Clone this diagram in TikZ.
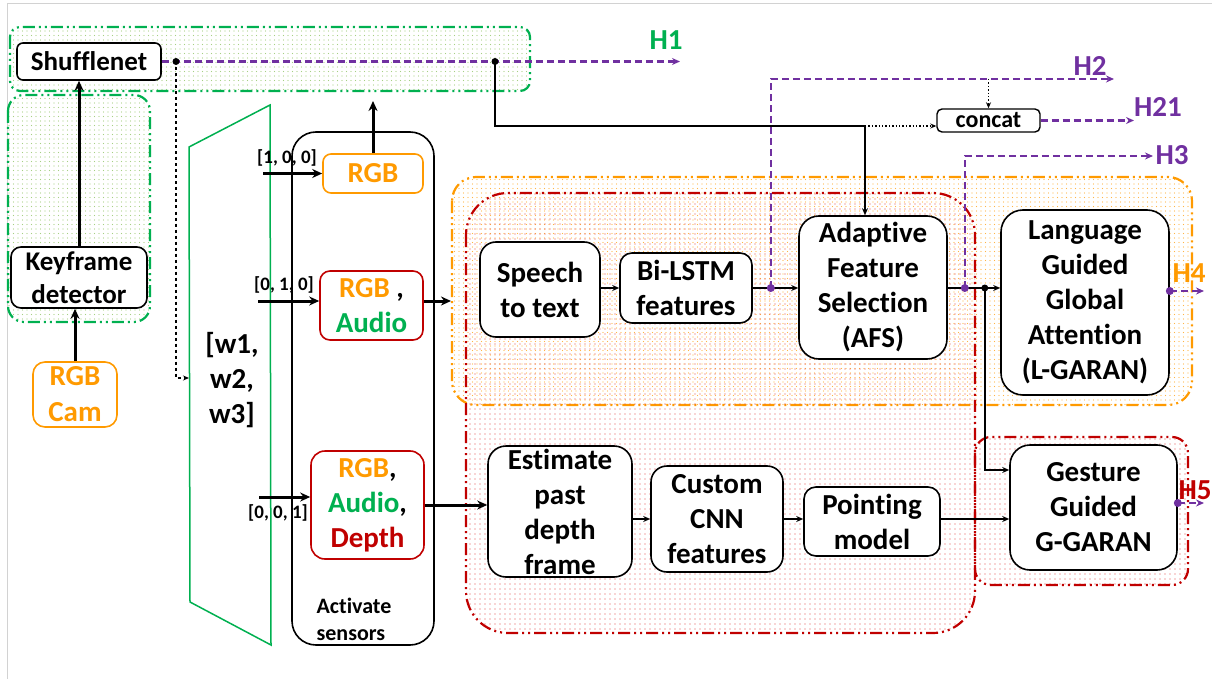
\documentclass[tikz,border=0pt]{standalone}
\usepackage{fontspec}
\setmainfont{Carlito}[Ligatures=NoCommon]
\usetikzlibrary{arrows.meta,patterns.meta,calc}

\definecolor{cgreen}{HTML}{00B050}
\definecolor{corange}{HTML}{FF9A00}
\definecolor{cred}{HTML}{C00000}
\definecolor{cpurple}{HTML}{7030A0}
\definecolor{dotgreen}{HTML}{A6CF82}
\definecolor{dotorange}{HTML}{FFB445}
\definecolor{dotred}{HTML}{E04A4A}
\definecolor{pageline}{HTML}{D2D2D2}

\newcommand{\setfs}[2]{\fontsize{#1}{#2}\selectfont}

\begin{document}
\begin{tikzpicture}[x=1pt,y=-1pt,
  txt/.style={font=\bfseries\setfs{29}{35}, align=center},
  blk/.style={draw=black, line width=1.6pt, rounded corners=#1, fill=white, inner sep=0pt, txt},
  blk/.default=14pt,
  sz/.style 2 args={minimum width=#1pt, minimum height=#2pt},
  grp/.style={line width=2.2pt, dash pattern=on 12pt off 4pt on 2pt off 4pt on 2pt off 4pt},
  thk/.style={line width=3pt, -{Stealth[length=10pt,width=9pt]}},
  thn/.style={line width=1.4pt, -{Stealth[length=7pt,width=6pt]}},
  pdash/.style={cpurple, line width=2.2pt, dash pattern=on 7pt off 4pt, -{Stealth[length=8pt,width=7pt]}},
  slbl/.style={font=\bfseries\setfs{19}{22}, inner sep=0pt},
  hlbl/.style={font=\bfseries\setfs{29}{35}, inner sep=0pt},
]
\useasboundingbox (0,0) rectangle (1212,679);

% page edge
\draw[pageline, line width=1pt] (7,679) -- (7,4) -- (1212,4);

% ---- grouping regions ----
\draw[grp, draw=cgreen, rounded corners=10pt, pattern={Dots[distance=4.5pt,radius=0.6pt]}, pattern color=dotgreen]
  (10,27) rectangle (530,91);
\draw[grp, draw=cgreen, rounded corners=16pt, pattern={Dots[distance=4.5pt,radius=0.6pt]}, pattern color=dotgreen]
  (8,95) rectangle (150,322);
\draw[grp, draw=corange, rounded corners=24pt, pattern={Dots[distance=4.5pt,radius=0.65pt]}, pattern color=dotorange]
  (452,177) rectangle (1192,405);
\draw[grp, draw=cred, rounded corners=42pt, pattern={Dots[distance=5pt,radius=0.7pt]}, pattern color=dotred]
  (466,193) rectangle (975,633);
\draw[grp, draw=cred, rounded corners=16pt, pattern={Dots[distance=5pt,radius=0.7pt]}, pattern color=dotred]
  (975,437) rectangle (1188,585);

% ---- sensor selection ----
\draw[cgreen, line width=1.5pt] (189,147) -- (270,105) -- (271,645) -- (190,602) -- cycle;
\node[txt] (wts) at (232,380) {[w1,\\w2,\\w3]};
\draw[line width=1.6pt, rounded corners=24pt] (292,132) rectangle (434,645);
\node[font=\bfseries\setfs{22}{27}, align=left, inner sep=0pt] (actl) at (354,619) {Activate\\sensors};

% ---- blocks ----
\node[blk=6pt, sz={144}{37}, font=\bfseries\setfs{27}{32}] (shuf) at (89,61.5) {Shufflenet};
\node[blk=10pt, sz={136}{61}, font=\bfseries\setfs{27}{33}] (kf) at (79,277.5) {Keyframe\\detector};
\node[blk=12pt, draw=corange, text=corange, sz={84}{65}, font=\bfseries\setfs{29}{36}] (cam) at (75,394.5) {RGB\\Cam};

\node[blk=8pt, draw=corange, text=corange, sz={100}{39}] (s1) at (373,173.5) {RGB};
\node[blk=10pt, draw=cred, sz={103}{69}] (s2) at (371.5,305.5) {\textcolor{corange}{RGB} ,\\\textcolor{cgreen}{Audio}};
\node[blk=14pt, draw=cred, sz={113}{108}] (s3) at (367.5,505) {\textcolor{corange}{RGB},\\\textcolor{cgreen}{Audio},\\\textcolor{cred}{Depth}};

\node[blk=5pt, sz={103}{23}, line width=1.4pt, font=\bfseries\setfs{24}{28}] (concat) at (988.5,120.5) {concat};

\node[blk=16pt, sz={120}{95}] (sp) at (540,289.5) {Speech\\to text};
\node[blk=12pt, sz={132}{70}] (bl) at (686,288) {Bi-LSTM\\features};
\node[blk=20pt, sz={148}{143}] (afs) at (873,287.5) {Adaptive\\Feature\\Selection\\(AFS)};
\node[blk=22pt, sz={168}{185}] (lg) at (1085,302.5) {Language\\Guided\\Global\\Attention\\(L-GARAN)};

\node[blk=18pt, sz={144}{131}] (est) at (560,511.5) {Estimate\\past\\depth\\frame};
\node[blk=16pt, sz={132}{106}] (cnn) at (717,519) {Custom\\CNN\\features};
\node[blk=12pt, sz={136}{69}] (pm) at (872,521.5) {Pointing\\model};
\node[blk=20pt, sz={167}{125}] (gg) at (1093.5,507.5) {Gesture\\Guided\\G-GARAN};

% ---- keyframe path ----
\draw[thk] (cam.north) -- (cam.north |- kf.south);
\draw[thk] (kf.north) -- (kf.north |- shuf.south);

\coordinate (d1) at (176,61.5);
\coordinate (d2) at (495,61.5);
\coordinate (h1e) at (680,61.5);
\draw[pdash] (shuf.east) -- (h1e);
\node[hlbl, text=cgreen] (H1) at (666,40) {H1};

\coordinate (tz) at (189,378);
\draw[line width=1.2pt, dashed, -{Stealth[length=6pt,width=5pt]}] (d1) |- (tz);
\coordinate (j2) at (865,126);
\draw[thn] (d2) |- (j2) -- (j2 |- afs.north);
\draw[line width=1.4pt, dotted, -{Stealth[length=6pt,width=5pt]}] (j2) -- (j2 -| concat.west);
\fill (d1) circle (3.5pt);
\fill (d2) circle (3.5pt);

% ---- sensor activation ----
\coordinate (a1) at (263,173.5);
\draw[thk] (a1) -- (s1.west);
\node[slbl] (l1) at (287,158) {[1, 0, 0]};
\coordinate (u1) at (373,101);
\draw[thk] (s1.north) -- (u1);

\coordinate (a2) at (258,301);
\draw[thk] (a2) -- (a2 -| s2.west);
\node[slbl] (l2) at (284,285) {[0, 1, 0]};
\coordinate (o2) at (451,301);
\draw[thk] (s2.east |- o2) -- (o2);

\coordinate (a3) at (259,497);
\draw[thk] (a3) -- (a3 -| s3.west);
\node[slbl] (l3) at (278,513) {[0, 0, 1]};
\draw[thk] (s3.east) -- (s3.east -| est.west);

% ---- language branch ----
\draw[thn] (sp.east |- bl.east) -- (bl.west);
\draw[thn] (bl.east) -- (afs.west |- bl.east);
\draw[thn] (afs.east |- bl.east) -- (lg.west |- bl.east);
\path (bl.east) ++(18,0) coordinate (h2s);
\path (afs.east |- bl.east) ++(17,0) coordinate (h3s);
\path (afs.east |- bl.east) ++(37,0) coordinate (j3);

\coordinate (h2e) at (1114,79);
\draw[pdash] (h2s) |- (h2e);
\node[hlbl, text=cpurple] (H2) at (1090,66) {H2};
\draw[line width=1.4pt, dotted, -{Stealth[length=6pt,width=5pt]}] (concat.north |- h2e) -- (concat.north);

\coordinate (h21e) at (1134,120.5);
\draw[pdash] (concat.east) -- (h21e);
\node[hlbl, text=cpurple] (H21) at (1158,107) {H21};

\coordinate (h3e) at (1153,156);
\draw[pdash] (h3s) |- (h3e);
\node[hlbl, text=cpurple] (H3) at (1172,155) {H3};

\coordinate (h4s) at ([yshift=11.5pt]lg.east);
\coordinate (h4e) at (1204,291);
\draw[pdash] (h4s) -- (h4e);
\node[hlbl, text=corange] (H4) at (1189,273) {H4};

\draw[thn] (j3) |- ([yshift=37.5pt]gg.west);
\fill (j3) circle (3.5pt);
\fill[cpurple] (h2s) circle (4pt);
\fill[cpurple] (h3s) circle (4pt);
\fill[cpurple] (h4s) circle (4pt);

% ---- gesture branch ----
\draw[thn] (est.east |- cnn.west) -- (cnn.west);
\draw[thn] (cnn.east) -- (pm.west |- cnn.east);
\draw[thn] (pm.east |- cnn.east) -- (gg.west |- cnn.east);

\coordinate (h5s) at ([yshift=4.5pt]gg.east);
\coordinate (h5e) at (1204,503);
\draw[pdash] (h5s) -- (h5e);
\fill[cpurple] (h5s) circle (4pt);
\node[hlbl, text=cred] (H5) at (1195,490) {H5};
\end{tikzpicture}
\end{document}
